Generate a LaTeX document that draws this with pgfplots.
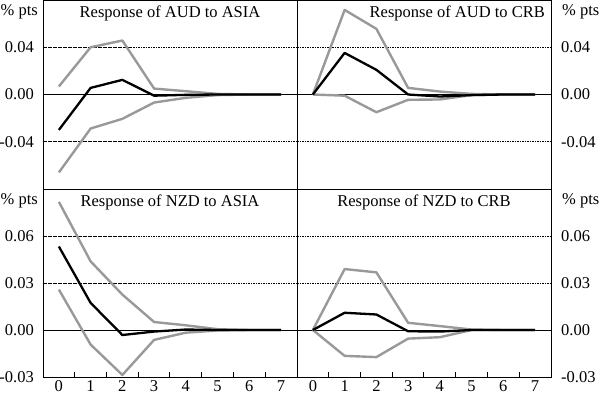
\documentclass[border=0pt]{standalone}
\usepackage{fontspec}
\setmainfont{Liberation Serif}
\usepackage{pgfplots}
\pgfplotsset{compat=1.18}
\definecolor{band}{gray}{0.6}
\newcommand{\fs}{\fontsize{16.5}{19}\selectfont}
\pgfplotsset{
  panel/.style={
    scale only axis, width=254pt, anchor=south west,
    xmin=-0.5, xmax=7.5,
    axis line style={line width=0.8pt},
    font=\fs, tick label style={font=\fs},
    scaled y ticks=false, scaled x ticks=false,
    major tick length=0pt,
    ymajorgrids, grid style={black, line width=0.6pt, dash pattern=on 1.6pt off 0.9pt},
    clip mode=individual,
  },
  toprow/.style={height=189pt, ymin=-0.08, ymax=0.08,
    ytick={-0.04,0,0.04}, yticklabels={-0.04,0.00,0.04},
    xtick=\empty},
  botrow/.style={height=188pt, ymin=-0.03, ymax=0.09,
    ytick={-0.03,0,0.03,0.06}, yticklabels={-0.03,0.00,0.03,0.06},
    xtick={0,1,2,3,4,5,6,7}, xticklabels={0,1,2,3,4,5,6,7},
    xtick pos=left,
    xticklabel style={anchor=north, inner sep=0pt, yshift=-3pt}},
  leftcol/.style={ytick pos=left,
    yticklabel style={anchor=east, inner sep=0pt, xshift=-9pt}},
  rightcol/.style={ytick pos=right, yticklabel pos=right,
    yticklabel style={anchor=west, inner sep=0pt, xshift=10pt}},
  upline/.style={band, line width=2.4pt, line join=round},
  midline/.style={black, line width=2.3pt, line join=round},
}
\newcommand{\halfticks}{%
  \pgfplotsinvokeforeach{0.5,1.5,2.5,3.5,4.5,5.5,6.5}{%
    \draw[black, line width=1pt] (axis cs:##1,-0.03) -- ([yshift=5pt]axis cs:##1,-0.03);}}
\begin{document}
\begin{tikzpicture}
\path[use as bounding box] (0pt,0pt) rectangle (600pt,394pt);
% Top-left: AUD to ASIA
\begin{axis}[panel, toprow, leftcol, at={(43pt,205pt)}]
\draw[black, line width=0.8pt] (rel axis cs:0,0.5) -- (rel axis cs:1,0.5);
\addplot[upline] coordinates {(0,0.0068) (1,0.040) (2,0.0457) (3,0.005) (4,0.0028) (5,0.0005) (6,0) (7,0)};
\addplot[upline] coordinates {(0,-0.066) (1,-0.0288) (2,-0.0206) (3,-0.0068) (4,-0.0028) (5,-0.0005) (6,0) (7,0)};
\addplot[midline] coordinates {(0,-0.030) (1,0.0056) (2,0.0124) (3,-0.001) (4,-0.0003) (5,0) (6,0) (7,0)};
\node[anchor=north, inner sep=0pt] at ([yshift=-6pt]rel axis cs:0.5,1) {Response of AUD to ASIA};
\node[anchor=north east, inner sep=0pt] at ([xshift=-5pt,yshift=-4pt]rel axis cs:0,1) {\% pts};
\end{axis}
% Top-right: AUD to CRB
\begin{axis}[panel, toprow, rightcol, at={(297pt,205pt)}]
\draw[black, line width=0.8pt] (rel axis cs:0,0.5) -- (rel axis cs:1,0.5);
\addplot[upline] coordinates {(0,0) (1,0.0716) (2,0.0556) (3,0.0056) (4,0.0025) (5,0.0005) (6,0) (7,0)};
\addplot[upline] coordinates {(0,0) (1,-0.001) (2,-0.015) (3,-0.0045) (4,-0.0042) (5,-0.0005) (6,0) (7,0)};
\addplot[midline] coordinates {(0,0) (1,0.0352) (2,0.0209) (3,0.0) (4,-0.0017) (5,-0.0005) (6,0) (7,0)};
\node[anchor=north east, inner sep=0pt] at ([xshift=-6pt,yshift=-6pt]rel axis cs:1,1) {Response of AUD to CRB};
\node[anchor=north west, inner sep=0pt] at ([xshift=11pt,yshift=-4pt]rel axis cs:1,1) {\% pts};
\end{axis}
% Bottom-left: NZD to ASIA
\begin{axis}[panel, botrow, leftcol, at={(43pt,17pt)}]
\draw[black, line width=0.8pt] (axis cs:-0.5,0) -- (axis cs:7.5,0);
\halfticks
\addplot[upline] coordinates {(0,0.0818) (1,0.0438) (2,0.0226) (3,0.0051) (4,0.003) (5,0.0005) (6,0) (7,0)};
\addplot[upline] coordinates {(0,0.0258) (1,-0.0093) (2,-0.0287) (3,-0.0063) (4,-0.0017) (5,-0.0003) (6,0) (7,0)};
\addplot[midline] coordinates {(0,0.0533) (1,0.0173) (2,-0.0032) (3,-0.001) (4,0.0003) (5,0) (6,0) (7,0)};
\node[anchor=north, inner sep=0pt] at ([yshift=-6pt]rel axis cs:0.5,1) {Response of NZD to ASIA};
\node[anchor=north east, inner sep=0pt] at ([xshift=-5pt,yshift=-4pt]rel axis cs:0,1) {\% pts};
\end{axis}
% Bottom-right: NZD to CRB
\begin{axis}[panel, botrow, rightcol, at={(297pt,17pt)}]
\draw[black, line width=0.8pt] (axis cs:-0.5,0) -- (axis cs:7.5,0);
\halfticks
\addplot[upline] coordinates {(0,0) (1,0.0389) (2,0.0368) (3,0.0046) (4,0.0025) (5,0.0003) (6,0) (7,0)};
\addplot[upline] coordinates {(0,0) (1,-0.0165) (2,-0.0173) (3,-0.0055) (4,-0.0046) (5,0) (6,0) (7,0)};
\addplot[midline] coordinates {(0,0) (1,0.011) (2,0.0099) (3,-0.0008) (4,-0.001) (5,0) (6,0) (7,0)};
\node[anchor=north, inner sep=0pt] at ([yshift=-6pt]rel axis cs:0.5,1) {Response of NZD to CRB};
\node[anchor=north west, inner sep=0pt] at ([xshift=11pt,yshift=-4pt]rel axis cs:1,1) {\% pts};
\end{axis}
\end{tikzpicture}
\end{document}
